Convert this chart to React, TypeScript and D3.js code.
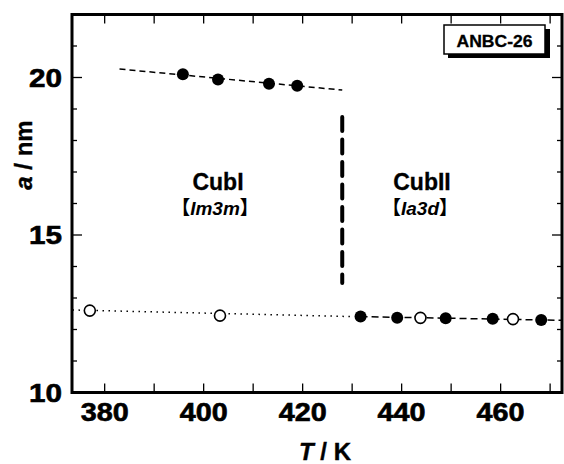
import React from "react";
import * as d3 from "d3";

// Cub I (Im3m) lattice parameter, filled circles
const cubIT = [395.8, 402.9, 413.2, 418.9];
const cubIA = [20.1, 19.94, 19.8, 19.74];

// low-temperature open circles
const openT = [377.0, 403.3, 443.8, 462.5];
const openA = [12.6, 12.44, 12.37, 12.33];

// Cub II (Ia3d) filled circles
const cubIIT = [431.7, 439.1, 448.9, 458.4, 468.2];
const cubIIA = [12.41, 12.37, 12.36, 12.34, 12.3];

// guide lines
const upperFitT = [383, 428];
const upperFitA = [20.27, 19.6];
const dottedT = [373.5, 430];
const dottedA = [12.62, 12.41];
const lowerFitT = [431.7, 472.4];
const lowerFitA = [12.41, 12.29];
const boundaryT = [428, 428];
const boundaryA = [18.75, 13.48];

const xTicks = [380, 390, 400, 410, 420, 430, 440, 450, 460, 470];
const xLabels = [380, 400, 420, 440, 460];
const yMinor = d3.range(11, 22);
const yLabels = [10, 15, 20];

const W = 564, H = 464;
const L = 72, R = 562, T = 14.5, B = 392.5;

export default function App() {
  const x = d3.scaleLinear().domain([373.4, 472.4]).range([L, R]);
  const y = d3.scaleLinear().domain([10, 22]).range([B, T]);
  const line = d3.line<[number, number]>().x(d => x(d[0])).y(d => y(d[1]));
  const pts = (ts: number[], as: number[]) => ts.map((t, i) => [t, as[i]] as [number, number]);
  const font = "'Liberation Sans', Arial, sans-serif";
  const cjk = "'Noto Sans CJK JP', sans-serif";

  return (
    <svg width={W} height={H} style={{ position: "absolute", left: 0, top: 0, background: "#fff" }}
      fontFamily={font}>
      {/* guide lines */}
      <path d={line(pts(upperFitT, upperFitA)) || ""} fill="none" stroke="#000" strokeWidth={1.5} strokeDasharray="6,4" />
      <path d={line(pts(dottedT, dottedA)) || ""} fill="none" stroke="#000" strokeWidth={1.5} strokeDasharray="1.5,4.5" />
      <path d={line(pts(lowerFitT, lowerFitA)) || ""} fill="none" stroke="#000" strokeWidth={1.5} strokeDasharray="7,4" />
      <path d={line(pts(boundaryT, boundaryA)) || ""} fill="none" stroke="#000" strokeWidth={4} strokeDasharray="14,8.5" strokeLinecap="round" />

      {/* points */}
      {cubIT.map((t, i) => <circle key={"a" + i} cx={x(t)} cy={y(cubIA[i])} r={6} fill="#000" />)}
      {cubIIT.map((t, i) => <circle key={"b" + i} cx={x(t)} cy={y(cubIIA[i])} r={6} fill="#000" />)}
      {openT.map((t, i) => <circle key={"c" + i} cx={x(t)} cy={y(openA[i])} r={5.5} fill="#fff" stroke="#000" strokeWidth={1.6} />)}

      {/* ticks */}
      {xTicks.map(t => (
        <g key={"x" + t}>
          <line x1={x(t)} x2={x(t)} y1={B} y2={B - 9} stroke="#000" strokeWidth={1.3} />
          <line x1={x(t)} x2={x(t)} y1={T} y2={T + 9} stroke="#000" strokeWidth={1.3} />
        </g>
      ))}
      {yMinor.map(v => {
        const len = v % 5 === 0 ? 10 : 5;
        return (
          <g key={"y" + v}>
            <line x1={L} x2={L + len} y1={y(v)} y2={y(v)} stroke="#000" strokeWidth={1.3} />
            <line x1={R} x2={R - len} y1={y(v)} y2={y(v)} stroke="#000" strokeWidth={1.3} />
          </g>
        );
      })}
      <rect x={L} y={T} width={R - L} height={B - T} fill="none" stroke="#000" strokeWidth={3} />

      {/* tick labels */}
      {xLabels.map(t => (
        <text key={"xl" + t} x={x(t)} y={421} textAnchor="middle" fontSize={25} fontWeight="bold"
          stroke="#000" strokeWidth={0.6} textLength={48} lengthAdjust="spacingAndGlyphs">{t}</text>
      ))}
      {yLabels.map(v => (
        <text key={"yl" + v} x={62} y={y(v) + 9} textAnchor="end" fontSize={25} fontWeight="bold"
          stroke="#000" strokeWidth={0.6} textLength={33} lengthAdjust="spacingAndGlyphs">{v}</text>
      ))}

      {/* axis titles */}
      <text x={325} y={460} textAnchor="middle" fontSize={24} fontWeight="bold" stroke="#000" strokeWidth={0.4}>
        <tspan fontStyle="italic">T</tspan> / K
      </text>
      <text transform="translate(32,155) rotate(-90)" textAnchor="middle" fontSize={24} fontWeight="bold" stroke="#000" strokeWidth={0.4}>
        <tspan fontStyle="italic">a</tspan> / nm
      </text>

      {/* phase labels */}
      <text x={218} y={190} textAnchor="middle" fontSize={23} fontWeight="bold" stroke="#000" strokeWidth={0.3}>CubI</text>
      <text x={215} y={215} textAnchor="middle" fontSize={19} fontWeight="bold">
        <tspan fontFamily={cjk}>【</tspan><tspan fontStyle="italic">Im3m</tspan><tspan fontFamily={cjk}>】</tspan>
      </text>
      <text x={422} y={190} textAnchor="middle" fontSize={23} fontWeight="bold" stroke="#000" strokeWidth={0.3}>CubII</text>
      <text x={420} y={215} textAnchor="middle" fontSize={19} fontWeight="bold">
        <tspan fontFamily={cjk}>【</tspan><tspan fontStyle="italic">Ia3d</tspan><tspan fontFamily={cjk}>】</tspan>
      </text>

      {/* sample label box */}
      <rect x={448} y={29} width={102} height={29} fill="#000" />
      <rect x={444} y={25} width={101} height={29} fill="#fff" stroke="#000" strokeWidth={1.5} />
      <text x={494.5} y={46.5} textAnchor="middle" fontSize={17} fontWeight="bold" stroke="#000" strokeWidth={0.3}
        textLength={76} lengthAdjust="spacingAndGlyphs">ANBC-26</text>
    </svg>
  );
}
